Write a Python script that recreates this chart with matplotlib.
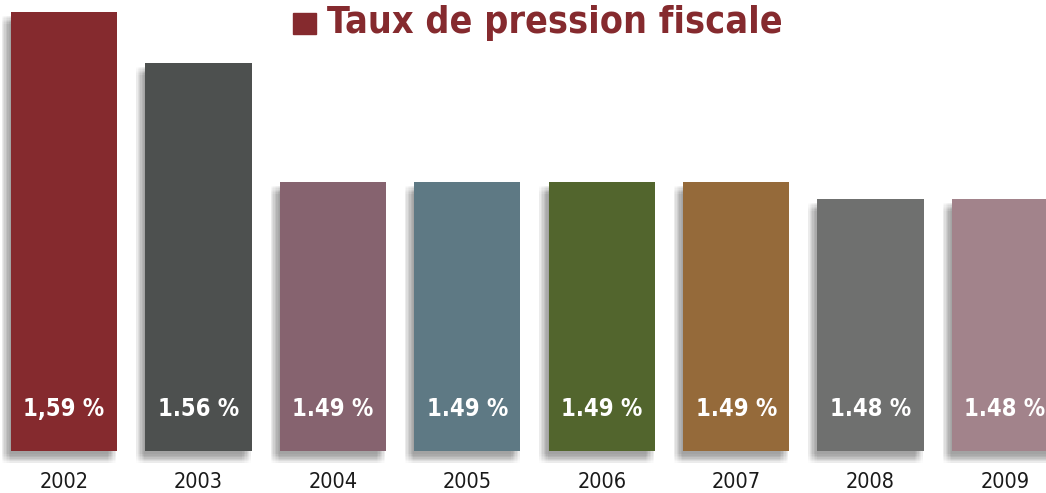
import numpy as np
import matplotlib
matplotlib.use('Agg')
import matplotlib.pyplot as plt
import matplotlib.patheffects as pe
from matplotlib.patches import Rectangle

years = ['2002', '2003', '2004', '2005', '2006', '2007', '2008', '2009']
values = [1.59, 1.56, 1.49, 1.49, 1.49, 1.49, 1.48, 1.48]
labels = ['1,59 %', '1.56 %', '1.49 %', '1.49 %', '1.49 %', '1.49 %', '1.48 %', '1.48 %']
colors = ['#852a2e', '#4d504f', '#86636f', '#5e7984', '#52652d', '#956a3a', '#6f706f', '#a2838b']
title = 'Taux de pression fiscale'

plt.rcParams['font.family'] = ['DejaVu Sans']
plt.rcParams['font.stretch'] = 'condensed'

fig = plt.figure(figsize=(10.46, 4.93), dpi=100)
ax = fig.add_axes([0, 42 / 493, 1, 451 / 493])

ybot = 1.3318  # axis does not start at zero
x = np.arange(len(years))
# blurred drop shadow, built from a grid of faint offset copies
shadow = []
steps = np.linspace(-3, 3, 7)
for dx in steps:
    for dy in steps:
        shadow.append(pe.SimplePatchShadow(offset=(-3.6 + dx, -5.5 + dy),
                                           shadow_rgbFace='#707070', alpha=0.015))
bars = ax.bar(x, np.array(values) - ybot, bottom=ybot, width=0.79, color=colors)
for b in bars:
    b.set_clip_on(False)
    b.set_path_effects(shadow + [pe.Normal()])

ax.set_ylim(ybot, ybot + 451 / 1700)
ax.set_xlim(-0.476, 7.305)

for i, lab in enumerate(labels):
    ax.annotate(lab, xy=(x[i], ybot), xytext=(0, 30), textcoords='offset points',
                ha='center', va='center', color='white', fontsize=17, fontweight='bold')

ax.set_xticks(x)
ax.set_xticklabels(years, fontsize=15.5, color='#1a1a1a')
ax.tick_params(axis='x', length=0, pad=15)
ax.set_yticks([])
for s in ax.spines.values():
    s.set_visible(False)
ax.patch.set_visible(False)

# title with square marker
fig.patches.append(Rectangle((293 / 1046, 1 - 34 / 493), 23 / 1046, 21 / 493,
                             transform=fig.transFigure, color='#852a2e'))
fig.text(327 / 1046, 1 - 33 / 493, title, ha='left', va='baseline',
         fontsize=27, fontweight='bold', color='#852a2e')

fig.savefig('out.png', dpi=100)
